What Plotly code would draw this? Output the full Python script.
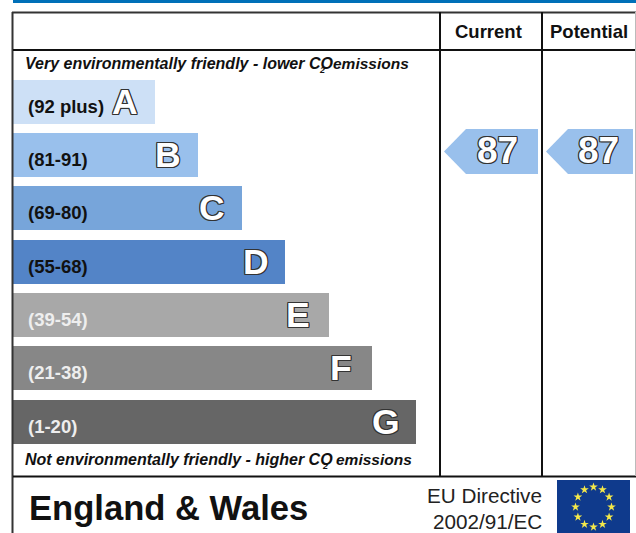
import math
import plotly.graph_objects as go

bands = ["(92 plus)", "(81-91)", "(69-80)", "(55-68)", "(39-54)", "(21-38)", "(1-20)"]
band_low = [92, 81, 69, 55, 39, 21, 1]
letters = ["A", "B", "C", "D", "E", "F", "G"]
bar_lengths = [142, 185, 229, 272, 316, 359, 403]
bar_colors = ["#cde0f6", "#99c0ec", "#77a5da", "#5384c7", "#a8a8a8", "#878787", "#666666"]
label_colors = ["#111111", "#111111", "#111111", "#111111", "#eeeeee", "#eeeeee", "#eeeeee"]
letter_right = [138, 181, 225, 269, 310, 352, 400]
current = 87
potential = 87
star_count = 12

FONT = "Liberation Sans"
LEFT = 13
row_top = [80, 133, 186, 240, 293, 346, 400]
row_h = 44
centres = [t + row_h / 2 for t in row_top]

def row_of(score):
    return next(i for i, low in enumerate(band_low) if score >= low)

fig = go.Figure()
fig.add_trace(go.Bar(
    x=bar_lengths, y=centres, base=LEFT, orientation="h", width=row_h,
    marker=dict(color=bar_colors, line=dict(width=0)), hoverinfo="skip"))

OUTLINE = "1px 0 0 #333, -1px 0 0 #333, 0 1px 0 #333, 0 -1px 0 #333, 1px 1px 0 #333, -1px -1px 0 #333, 1px -1px 0 #333, -1px 1px 0 #333"
ann = []
def text(x, y, s, size, color="#111111", anchor="left", shadow=None):
    f = dict(family=FONT, size=size, color=color)
    if shadow:
        f["shadow"] = shadow
    ann.append(dict(x=x, y=y, xref="x", yref="y", text=s, showarrow=False, xanchor=anchor,
                    yanchor="middle", font=f, borderpad=0, borderwidth=0))

for i, b in enumerate(bands):
    text(27.5, centres[i] + 4, f"<b>{b}</b>", 18.5, label_colors[i])
    text(letter_right[i], centres[i] - 0.5, f"<b>{letters[i]}</b>", 35.5, "#ffffff", "right", OUTLINE)

text(25, 63.5, "<b><i>Very environmentally friendly - lower CO</i></b>", 16)
text(319, 70, "<b><i>2</i></b>", 9)
text(333, 63.5, "<b><i>emissions</i></b>", 15.5)
text(25, 459.5, "<b><i>Not environmentally friendly - higher CO</i></b>", 16)
text(322, 466, "<b><i>2</i></b>", 9)
text(335.5, 459.5, "<b><i>emissions</i></b>", 15.5)
text(488.5, 31, "<b>Current</b>", 18.5, anchor="center")
text(589, 31, "<b>Potential</b>", 18.5, anchor="center")
text(29, 508, "<b>England &amp; Wales</b>", 34.6)
text(542, 495.5, "EU Directive", 20.7, "#222222", "right")
text(542, 521.5, "2002/91/EC", 20.7, "#222222", "right")

shapes = [
    dict(type="rect", x0=13, x1=636, y0=0, y1=3, fillcolor="#0070b8", line_width=0, layer="below"),
]
def line(x0, y0, x1, y1, color="#111111", w=2):
    shapes.append(dict(type="line", x0=x0, x1=x1, y0=y0, y1=y1, line=dict(color=color, width=w), layer="above"))
line(12.5, 12, 12.5, 533, "#333333")
line(12, 12.5, 636, 12.5, "#333333")
line(13, 50, 636, 50)
line(13, 476.5, 636, 476.5)
line(440, 12, 440, 476)
line(542, 12, 542, 476)
line(635.5, 12, 635.5, 476, "#bbbbbb", 1)

def pointer(x_tip, x_right, score, x_text):
    c = centres[row_of(score)] - 3.5
    h = row_h / 2 + 0.5
    xk = x_tip + 22
    shapes.append(dict(type="path", path=f"M {x_tip},{c} L {xk},{c-h} L {x_right},{c-h} L {x_right},{c+h} L {xk},{c+h} Z",
                       fillcolor=bar_colors[row_of(score)], line_width=0, layer="below"))
    text(x_text, c - 1, f"<b>{score}</b>", 37, "#ffffff", "center", OUTLINE)

pointer(444, 538, current, 497)
pointer(546, 633, potential, 598.5)

# EU flag
shapes.append(dict(type="rect", x0=557, x1=630, y0=480, y1=533, fillcolor="#0f3a8c", line_width=0, layer="below"))
fx, fy, rx, ry = 593.5, 507, 18, 20
ang = [2 * math.pi * k / star_count for k in range(star_count)]
fig.add_trace(go.Scatter(
    x=[fx + rx * math.sin(a) for a in ang], y=[fy - ry * math.cos(a) for a in ang],
    mode="markers", marker=dict(symbol="star", size=6.5, color="#f4e84a", line_width=0), hoverinfo="skip"))

fig.update_layout(
    width=636, height=533, margin=dict(l=0, r=0, t=0, b=0),
    paper_bgcolor="#ffffff", plot_bgcolor="#ffffff", showlegend=False,
    xaxis=dict(range=[0, 636], visible=False, fixedrange=True),
    yaxis=dict(range=[533, 0], visible=False, fixedrange=True),
    annotations=ann, shapes=shapes, bargap=0)
fig.write_html("out.html", config=dict(displayModeBar=False),
               post_script="document.body.style.margin='0';document.body.style.overflow='hidden';")
